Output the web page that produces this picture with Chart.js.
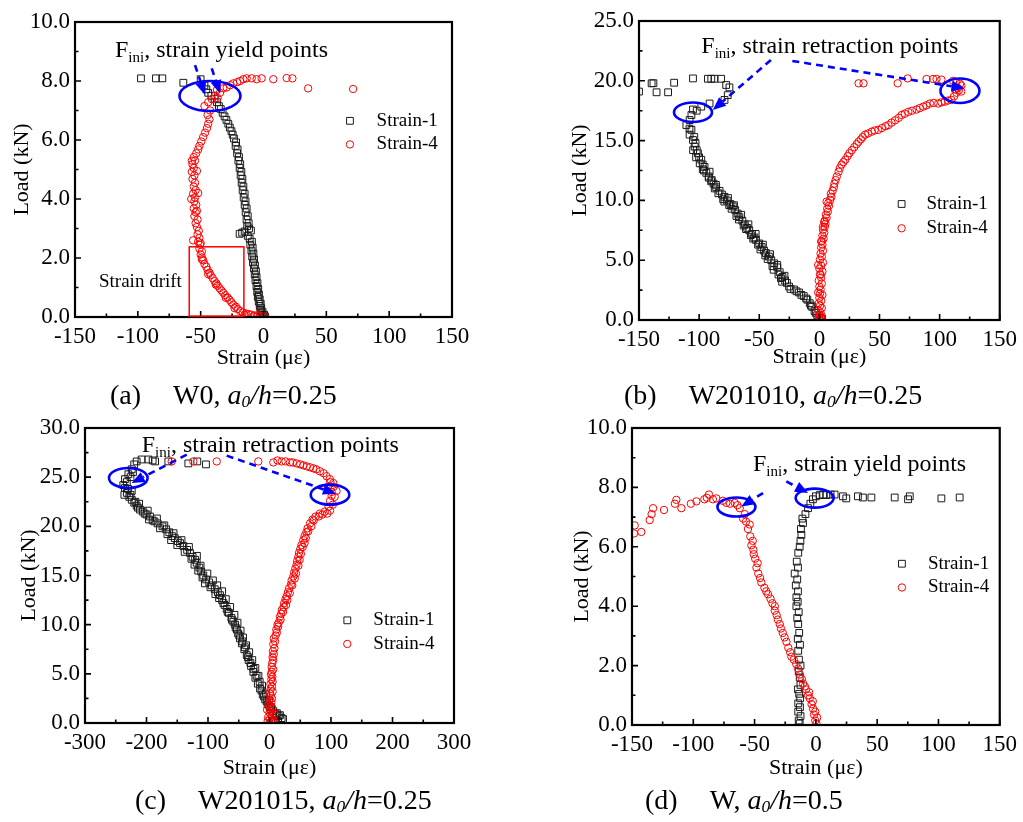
<!DOCTYPE html>
<html><head><meta charset="utf-8">
<script src="https://cdn.jsdelivr.net/npm/chart.js@4.4.1/dist/chart.umd.min.js"></script>
<style>
html,body{margin:0;padding:0;background:#fff;}
#wrap{position:relative;width:1023px;height:822px;overflow:hidden;background:#fff;}
canvas{position:absolute;left:0;top:0;}
.cap{position:absolute;font-family:'Liberation Serif','Times New Roman',serif;font-size:28px;color:#000;white-space:nowrap;line-height:1;}
.cap i{font-style:italic;}
.cap sub{font-size:0.62em;vertical-align:-0.18em;line-height:0;}
.gap{display:inline-block;width:32px;}
</style></head><body>
<div id="wrap">
<canvas id="ca" width="1023" height="822"></canvas>
<canvas id="cb" width="1023" height="822"></canvas>
<canvas id="cc" width="1023" height="822"></canvas>
<canvas id="cd" width="1023" height="822"></canvas>
<div class="cap" style="left:110px;top:381px">(a)<span class="gap"></span>W0, <i>a<sub>0</sub>/h</i>=0.25</div>
<div class="cap" style="left:624px;top:381px">(b)<span class="gap"></span>W201010, <i>a<sub>0</sub>/h</i>=0.25</div>
<div class="cap" style="left:135px;top:786px">(c)<span class="gap"></span>W201015, <i>a<sub>0</sub>/h</i>=0.25</div>
<div class="cap" style="left:645px;top:786px">(d)<span class="gap"></span>W, <i>a<sub>0</sub>/h</i>=0.5</div>
</div>
<script>
// ---------------- DATA (strain in με, load in kN) ----------------
const seriesNames = ['Strain-1', 'Strain-4'];

const a_strain1 = [[1.2,0.02],[-0.5,0.04],[0.5,0.08],[-1.5,0.12],[-0.8,0.18],[-2.5,0.24],[-1.8,0.3],[-3,0.38],[-2.2,0.45],[-3.8,0.52],[-3,0.6],[-4.5,0.68],[-3.6,0.76],[-5,0.85],[-4.2,0.95],[-5.6,1.05],[-4.8,1.15],[-6.4,1.25],[-5.5,1.35],[-7,1.45],[-6,1.55],[-7.6,1.65],[-6.8,1.75],[-8.4,1.85],[-7.5,1.95],[-9,2.05],[-8,2.15],[-9.6,2.25],[-8.6,2.35],[-10.5,2.45],[-9.2,2.55],[-11,2.65],[-12.5,2.75],[-19,2.82],[-17,2.86],[-15,2.9],[-10,2.93],[-11.5,3.0],[-13,3.08],[-11.8,3.18],[-13.5,3.3],[-12.5,3.42],[-14.2,3.55],[-13.4,3.68],[-15,3.8],[-14.3,3.92],[-15.8,4.05],[-15,4.18],[-16.6,4.3],[-16,4.42],[-17.4,4.55],[-16.8,4.68],[-18.2,4.8],[-17.6,4.92],[-19,5.05],[-18.5,5.18],[-20,5.3],[-19.5,5.42],[-21,5.55],[-20.6,5.68],[-22.2,5.8],[-21.8,5.92],[-23.5,6.05],[-24.5,6.18],[-25.5,6.3],[-26.8,6.42],[-28,6.55],[-29.5,6.68],[-31,6.8],[-32.5,6.92],[-34,7.05],[-35.5,7.15],[-37,7.28],[-39,7.4],[-41.5,7.5],[-44,7.6],[-45.5,7.72],[-47,7.85],[-50,8.06],[-63.8,7.94],[-80.5,8.09],[-85.6,8.09],[-97.5,8.09]];

const a_strain4 = [[1.2,0.02],[-1,0.03],[-3,0.05],[-5,0.06],[-7.5,0.05],[-10,0.08],[-12,0.1],[-14,0.12],[-16.5,0.15],[-18.5,0.2],[-20.5,0.27],[-22,0.35],[-24,0.42],[-25.5,0.5],[-27,0.58],[-28.5,0.66],[-30.5,0.74],[-32,0.82],[-33.5,0.9],[-35,0.98],[-36.5,1.06],[-37.5,1.14],[-39,1.22],[-40.5,1.32],[-42,1.42],[-43,1.5],[-44.5,1.6],[-45.5,1.7],[-47,1.8],[-48,1.92],[-49,2.02],[-50,2.12],[-49,2.22],[-51,2.32],[-50.5,2.45],[-52,2.55],[-51,2.68],[-52.5,2.8],[-51.5,2.92],[-53,3.05],[-54,3.18],[-52.5,3.3],[-55,3.42],[-54,3.55],[-55.5,3.68],[-53.5,3.8],[-55,3.92],[-54.5,4.05],[-56,4.18],[-54,4.3],[-55.5,4.42],[-54.5,4.55],[-56.5,4.68],[-55,4.8],[-57,4.92],[-55.5,5.05],[-56.5,5.18],[-54.5,5.3],[-55.5,5.42],[-53.5,5.55],[-52,5.68],[-51,5.8],[-49.5,5.95],[-48,6.1],[-46.5,6.25],[-45,6.4],[-44,6.55],[-43,6.7],[-44.5,6.85],[-42.5,7.0],[-47,7.15],[-44,7.28],[-41,7.38],[-38.5,7.5],[-36.5,7.42],[-34.6,7.6],[-37,7.7],[-32,7.75],[-29.3,7.78],[-26.5,7.86],[-24,7.92],[-21,7.96],[-18.7,8.0],[-16,8.06],[-13.4,8.09],[-9.4,8.09],[-5.5,8.06],[-1.5,8.09],[7.8,8.06],[18.4,8.1],[23,8.09],[35.5,7.75],[71.3,7.73],[-56,2.6],[-53,3.6],[-57.5,4.0],[-53,4.95],[-57,5.3],[-52,4.2],[-50,2.5],[-49,1.95],[-44,1.45],[-38,1.1],[-30,0.65],[-23,0.3],[-15,0.08],[-8,0.02]];

const b_strain1 = [[-150,19.1],[-139.5,19.79],[-138,19.8],[-135.4,19.04],[-125.8,19.04],[-120.8,19.84],[-105.1,20.2],[-92.7,20.17],[-89.9,20.17],[-87.2,20.17],[-81.7,20.17],[-77.5,19.65],[-74.8,19.45],[-76.2,18.8],[-78.9,18.4],[-91.3,18.1],[-98.2,17.84],[-105.1,17.6],[-102,17.5],[-106.4,17.14],[-107.9,16.72],[-110.6,16.3],[-106.4,15.9],[-107.9,15.5],[-105.1,15.05],[-103.7,14.5],[-105,14.2],[-101,13.94],[-102.5,13.6],[-98.2,13.4],[-99.5,13.1],[-95.5,12.8],[-96,12.5],[-91.3,12.4],[-92,12.0],[-89.5,11.7],[-88,11.4],[-85.8,11.1],[-83,10.8],[-81,10.5],[-78.9,10.3],[-77,10.0],[-74,9.7],[-72,9.5],[-70,9.2],[-68,8.9],[-66.5,8.6],[-64,8.3],[-62,8.0],[-60,7.7],[-58.3,7.5],[-56,7.2],[-54,6.9],[-52.7,6.7],[-50,6.4],[-48,6.1],[-46,5.8],[-44.5,5.6],[-42,5.3],[-40,5.0],[-37.6,4.74],[-35,4.4],[-33,4.0],[-30.7,3.6],[-28.5,3.3],[-27,3.1],[-25.2,2.8],[-21,2.55],[-16.9,2.3],[-13,2.0],[-10,1.7],[-8,1.4],[-6,1.1],[-4,0.75],[-1.8,0.4],[0,0.2],[2.3,0.1],[-102,14.2],[-97,12.6],[-92,11.9],[-86,11.3],[-80,10.1],[-75,9.6],[-69,8.7],[-63,7.9],[-57,7.1],[-51,6.3],[-45,5.4],[-39,4.5],[-32,3.5],[-29,3.7],[-35,4.6],[-41,5.5],[-47,6.3],[-53,7.2],[-59,8.0],[-65,8.8],[-71,9.6],[-76,10.2],[-108,16.0],[-104,15.3],[-103,14.8],[-100,13.6],[-97,13.0],[-94,12.3],[-90,11.6],[-87,11.0],[-84,10.6],[-79,9.9],[-73,9.3],[-67,8.4],[-61,7.6],[-55,6.8],[-49,5.9],[-43,5.1],[-38,4.2],[-34,3.8],[-31,3.2],[-24,2.6],[-19,2.4],[-15,2.1],[-11,1.8],[-7,1.2],[-3,0.6]];

const b_strain4 = [[0.5,0.05],[1.5,0.1],[-0.5,0.2],[2,0.3],[0,0.45],[1,0.6],[-1,0.8],[2,1.0],[0.5,1.2],[-0.5,1.4],[1.5,1.6],[0,1.85],[2.5,2.1],[-1,2.3],[1,2.55],[0,2.8],[2,3.05],[-0.5,3.3],[1.5,3.55],[0.5,3.8],[2.5,4.05],[0,4.3],[1.5,4.55],[3,4.8],[0.5,5.05],[2,5.3],[1,5.55],[3,5.8],[1.5,6.05],[2.5,6.3],[1.5,6.55],[3.5,6.8],[2.5,7.05],[4,7.3],[3,7.55],[4.5,7.8],[5,8.05],[4.5,8.3],[6,8.55],[5.5,8.8],[7,9.05],[6.5,9.3],[8,9.55],[7.5,9.8],[9,10.05],[10,10.3],[9.5,10.55],[11,10.8],[12,11.1],[12.5,11.4],[13.5,11.7],[14.5,12.0],[16,12.4],[17,12.7],[18.5,13.0],[20,13.2],[21.6,13.4],[23.5,13.7],[25,13.95],[27,14.2],[29,14.45],[31,14.7],[32.6,14.9],[34.5,15.1],[36,15.3],[38,15.5],[40.5,15.6],[43.6,15.75],[46,15.85],[49,15.9],[52,16.05],[55,16.2],[57.4,16.3],[60,16.5],[63,16.7],[66,16.9],[68.4,17.14],[71,17.25],[74,17.4],[77,17.5],[80.8,17.6],[83.5,17.72],[86.4,17.84],[89,17.95],[91.9,18.1],[95,18.15],[98.8,18.1],[101.5,18.2],[104.3,18.25],[107,18.35],[109.8,18.4],[112,18.7],[114,19.0],[116,19.2],[118,19.1],[115.3,19.4],[118,19.6],[113,19.3],[117,19.75],[114,19.9],[111.2,20.0],[101.5,20.1],[97.4,20.15],[94.6,20.15],[89.1,20.15],[73.4,20.2],[65.1,19.79],[36.7,19.79],[32.6,19.79],[1,3.8],[-1,4.6],[2,6.6],[4,8.2],[6,9.9],[3,7.8],[0.5,2.2],[1.5,0.2]];

const c_strain1 = [[-216,26.6],[-208,26.8],[-197,26.8],[-190,26.7],[-186,26.6],[-164.5,26.6],[-132,26.4],[-117.4,26.6],[-103.3,26.3],[-220,26.3],[-224,25.8],[-222,25.5],[-229.5,25.3],[-226,25.0],[-235,24.8],[-232,24.5],[-237.7,24.2],[-235,23.9],[-232,23.4],[-236,23.2],[-228,23.0],[-224,22.7],[-220,22.4],[-216,22.1],[-210.6,21.7],[-206,21.5],[-200,21.2],[-194.3,21.0],[-190,20.6],[-182,20.3],[-174,20.0],[-168,19.7],[-163,19.4],[-158,19.0],[-154,18.8],[-149,18.5],[-145.5,18.3],[-140,18.0],[-134,17.6],[-129.3,17.3],[-125,16.9],[-121,16.6],[-118.4,16.3],[-114,15.8],[-111,15.4],[-107.6,15.0],[-103,14.6],[-98,14.3],[-94,14.0],[-89,13.6],[-84,13.3],[-80.5,13.0],[-77,12.5],[-73,12.0],[-69.6,11.6],[-66,11.2],[-62,10.7],[-58.8,10.3],[-55,9.7],[-51,9.1],[-48,8.6],[-45,8.1],[-41,7.5],[-37,6.9],[-34,6.4],[-30,5.8],[-26.3,5.2],[-23,4.6],[-19,4.0],[-15.4,3.5],[-11,2.9],[-7,2.4],[-4.6,2.2],[0,1.7],[3,1.4],[6.2,1.2],[10,0.9],[15,0.7],[19.8,0.5],[8,0.3],[5,0.1],[-224,23.6],[-212,22.3],[-198,21.6],[-183,20.8],[-171,20.1],[-156,19.3],[-143,18.6],[-131,17.9],[-118,17.0],[-112,16.0],[-101,15.2],[-92,14.5],[-85,14.0],[-77,13.4],[-71,12.6],[-64,11.8],[-57,11.0],[-52,10.2],[-47,9.4],[-43,8.7],[-38,7.9],[-33,7.2],[-28,6.4],[-23,5.6],[-18,4.8],[-12,3.8],[-6,3.0],[-1,2.3],[-230,23.8],[-226,23.2],[-218,22.5],[-214,21.9],[-203,21.3],[-196,20.7],[-187,20.5],[-178,19.8],[-166,19.2],[-160,18.6],[-150,18.1],[-138,17.4],[-127,16.7],[-122,16.1],[-116,15.5],[-109,14.8],[-105,14.2],[-96,13.8],[-88,13.1],[-82,12.7],[-75,12.2],[-68,11.3],[-61,10.5],[-56,10.0],[-53,9.5],[-49,8.9],[-44,8.3],[-40,7.7],[-35,6.7],[-31,6.1],[-26,5.5],[-21,4.8],[-16,4.2],[-13,3.3],[-9,2.7],[-3,1.9],[2,1.6],[12,1.0],[17,0.8],[22,0.4],[14,0.2]];

const c_strain4 = [[0,0.05],[3,0.1],[-3,0.2],[6,0.3],[1,0.45],[-2,0.6],[4,0.75],[8,0.9],[0,1.05],[2,1.2],[-4,1.35],[5,1.5],[1,1.7],[-1,1.9],[3,2.1],[0,2.3],[4,2.5],[2,2.75],[0.8,3.0],[5,3.2],[2,3.45],[4,3.7],[1.5,3.95],[5,4.2],[3,4.45],[4.5,4.7],[2.5,4.95],[3.6,5.2],[6,5.45],[3.6,5.7],[4.5,6.1],[6,6.4],[5,6.7],[7,7.0],[5.5,7.3],[8,7.6],[6.2,8.0],[9,8.3],[7,8.6],[10,8.9],[12,9.2],[11,9.5],[14,9.8],[15,10.2],[17,10.8],[19,11.1],[20,11.5],[23,11.8],[24,12.2],[26,12.6],[28,12.9],[30,13.3],[32,13.7],[35,14.1],[36,14.5],[38.7,14.9],[40,15.3],[42,15.7],[44,16.1],[45,16.5],[46.8,16.9],[48,17.3],[50,17.7],[52,18.1],[55,18.6],[57,19.0],[60,19.4],[62,19.8],[65.9,20.3],[70,20.7],[75,21.0],[82,21.3],[90,21.5],[98.4,21.6],[96,22.0],[98.4,22.6],[101,23.1],[101,23.5],[109,23.6],[104,24.0],[103.7,24.4],[98,24.8],[92.9,25.1],[88,25.4],[82,25.6],[76,25.8],[71.2,25.9],[66,26.0],[60.5,26.1],[55,26.2],[50,26.3],[44.2,26.4],[38,26.5],[33.3,26.5],[26,26.6],[19.8,26.6],[13,26.7],[6.2,26.5],[-18.2,26.6],[-85.8,26.6],[-123.9,26.6],[-159,26.6],[13,10.0],[18,10.5],[22,11.3],[27,12.0],[29,12.5],[33,13.2],[37,14.0],[41,14.7],[43,15.2],[47,16.0],[49,16.6],[51,17.2],[54,17.9],[57,18.3],[59,18.8],[63,19.5],[68,20.0],[72,20.6],[80,21.0],[86,21.2],[94,21.3],[103,22.2],[106,23.0],[99,24.5],[95,24.0]];

const d_strain1 = [[-13.2,0.05],[-14,0.15],[-12.5,0.3],[-14.4,0.45],[-13,0.6],[-14.4,0.73],[-12.8,0.9],[-13.6,1.05],[-14.6,1.2],[-12.6,1.35],[-13.2,1.6],[-14,1.8],[-12.5,2.0],[-13.8,2.2],[-14.4,2.5],[-13,2.7],[-14.8,2.9],[-13.6,3.1],[-14.4,3.4],[-15.2,3.6],[-14,3.8],[-15.9,4.0],[-14.8,4.15],[-15.9,4.3],[-14.6,4.5],[-16.4,4.7],[-15.2,4.9],[-17.3,5.1],[-14.6,5.3],[-15.6,5.5],[-14.4,5.8],[-13.2,6.0],[-12.6,6.2],[-11.8,6.4],[-12.2,6.6],[-10.5,6.8],[-11,6.95],[-8.5,7.1],[-6.4,7.3],[-4.5,7.45],[-2.4,7.6],[0,7.7],[3.1,7.74],[6,7.76],[8.5,7.74],[12,7.76],[15.3,7.76],[22.1,7.7],[24.8,7.63],[34.3,7.7],[38.4,7.66],[45.3,7.66],[64.3,7.66],[75.2,7.6],[76.6,7.7],[102.4,7.63],[117.3,7.66]];

const d_strain4 = [[0.4,0.05],[-0.5,0.15],[1,0.25],[-1.5,0.35],[-0.5,0.45],[-2.3,0.55],[-3.5,0.7],[-2.5,0.8],[-5,0.9],[-6.4,1.0],[-5.5,1.1],[-8,1.2],[-9,1.3],[-10.5,1.4],[-11.5,1.55],[-13,1.7],[-14.5,1.9],[-16,2.05],[-18,2.2],[-20,2.3],[-21,2.45],[-22.5,2.6],[-24,2.8],[-25.5,2.95],[-27,3.1],[-28.5,3.25],[-29.5,3.4],[-31,3.55],[-32,3.7],[-33.5,3.85],[-33.5,4.0],[-35.5,4.1],[-37,4.25],[-39,4.4],[-40.5,4.5],[-42,4.62],[-44.5,4.8],[-45.5,4.95],[-47,5.1],[-48.5,5.3],[-47.5,5.45],[-49.5,5.6],[-50.7,5.75],[-51,5.9],[-52.6,6.05],[-51.5,6.2],[-53.5,6.35],[-55.4,6.6],[-54,6.75],[-57,6.85],[-59.4,6.95],[-58,7.1],[-62.1,7.3],[-64,7.4],[-66.2,7.48],[-70,7.45],[-73,7.48],[-76,7.55],[-81.2,7.63],[-84,7.6],[-87.2,7.76],[-88.9,7.65],[-91,7.6],[-97.5,7.53],[-102,7.45],[-109.7,7.3],[-113.8,7.58],[-115,7.45],[-123.9,7.24],[-132.8,7.3],[-134,7.1],[-135.6,6.9],[-142.4,6.5],[-147.8,6.72],[-148.3,6.45]];

// ---------------- RENDERING ----------------
const FONT = "'Liberation Serif','Times New Roman',serif";
const W = 1023, H = 822;

const panels = [
  { id:'ca', s1:a_strain1, s4:a_strain4,
    area:{l:75,t:22,r:452,b:317}, yTitleX:22, xTitleY:358,
    x:{min:-150,max:150,step:50,minor:25}, y:{min:0,max:10,step:2,minor:1},
    legend:{x:68.8,y1:6.65,y2:5.85,tx:90},
    note:{x:-118.2,y:8.81,text:', strain yield points'},
    ellipses:[{x:-42.6,y:7.49,rx:30.5,ry:15}],
    arrows:[[-54.5,8.54,-46.6,7.53],[-41.2,8.43,-34.6,7.58]],
    rect:[-59.1,2.38,-15.6,0.03], drift:{x:-130.9,y:1.02,text:'Strain drift'} },
  { id:'cb', s1:b_strain1, s4:b_strain4,
    area:{l:639,t:21,r:1002,b:320}, yTitleX:580, xTitleY:357,
    x:{min:-150,max:150,step:50,minor:25}, y:{min:0,max:25,step:5,minor:2.5},
    legend:{x:68.4,y1:9.70,y2:7.67,tx:89.1},
    note:{x:-98.2,y:22.32,text:', strain retraction points'},
    ellipses:[{x:-105.1,y:17.37,rx:19,ry:9.8},{x:116.9,y:19.17,rx:19.5,ry:12.2}],
    arrows:[[-40.3,21.74,-88.6,17.56],[-22.5,21.66,120.8,19.37]] },
  { id:'cc', s1:c_strain1, s4:c_strain4,
    area:{l:85,t:428,r:454,b:723}, yTitleX:29, xTitleY:768,
    x:{min:-300,max:300,step:100,minor:50}, y:{min:0,max:30,step:5,minor:2.5},
    legend:{x:126.5,y1:10.44,y2:8.04,tx:168.8},
    note:{x:-207.8,y:27.53,text:', strain retraction points'},
    ellipses:[{x:-229.6,y:24.92,rx:19.3,ry:10},{x:98.4,y:23.22,rx:19.3,ry:10}],
    arrows:[[-134.6,27.29,-224.1,24.41],[-69.6,27.19,108.1,23.32]] },
  { id:'cd', s1:d_strain1, s4:d_strain4,
    area:{l:632,t:428,r:1000,b:725}, yTitleX:582, xTitleY:768,
    x:{min:-150,max:150,step:50,minor:25}, y:{min:0,max:10,step:2,minor:1},
    legend:{x:70.2,y1:5.43,y2:4.63,tx:91.4},
    note:{x:-51.3,y:8.54,text:', strain yield points'},
    ellipses:[{x:-64.8,y:7.34,rx:19,ry:9.5},{x:-1.0,y:7.64,rx:19,ry:9.5}],
    arrows:[[-43.1,7.81,-60.8,7.36],[-24.1,8.2,-6.4,7.81]] }
];

const SQ = {pointStyle:'rect', radius:4.8, borderColor:'#1a1a1a', borderWidth:1};
const CI = {pointStyle:'circle', radius:3.7, borderColor:'#ff0000', borderWidth:1};

function blueArrow(c, x1, y1, x2, y2) {
  const ang = Math.atan2(y2 - y1, x2 - x1), hl = 13, hw = 5.5;
  const bx = x2 - hl * Math.cos(ang), by = y2 - hl * Math.sin(ang);
  c.strokeStyle = '#0000ff'; c.fillStyle = '#0000ff'; c.lineWidth = 2.6;
  c.setLineDash([7, 5]);
  c.beginPath(); c.moveTo(x1, y1); c.lineTo(bx, by); c.stroke();
  c.setLineDash([]);
  c.beginPath(); c.moveTo(x2, y2);
  c.lineTo(bx - hw * Math.sin(ang), by + hw * Math.cos(ang));
  c.lineTo(bx + hw * Math.sin(ang), by - hw * Math.cos(ang));
  c.closePath(); c.fill();
}

const decor = {
  id: 'decor',
  afterDatasetsDraw(chart) {
    const P = chart.options.plugins.decor.panel;
    const c = chart.ctx, a = chart.chartArea, xs = chart.scales.x, ys = chart.scales.y;
    const X = v => xs.getPixelForValue(v), Y = v => ys.getPixelForValue(v);
    c.save();
    // ticks (inward)
    c.strokeStyle = '#000'; c.lineWidth = 1.6;
    c.beginPath();
    const nX = Math.round((P.x.max - P.x.min) / P.x.minor);
    for (let i = 0; i <= nX; i++) {
      const v = P.x.min + i * P.x.minor, p = X(v);
      const major = (i * P.x.minor) % P.x.step === 0;
      c.moveTo(p, a.bottom); c.lineTo(p, a.bottom - (major ? 6 : 3.5));
    }
    const nY = Math.round((P.y.max - P.y.min) / P.y.minor);
    for (let i = 0; i <= nY; i++) {
      const v = P.y.min + i * P.y.minor, p = Y(v);
      const major = Math.abs((i * P.y.minor) / P.y.step - Math.round((i * P.y.minor) / P.y.step)) < 1e-9;
      c.moveTo(a.left, p); c.lineTo(a.left + (major ? 6 : 3.5), p);
    }
    c.stroke();
    // frame
    c.lineWidth = 2.2;
    c.strokeRect(a.left, a.top, a.right - a.left, a.bottom - a.top);
    // legend (hollow markers)
    const L = P.legend, H2 = Chart.helpers;
    c.fillStyle = 'rgba(0,0,0,0)';
    c.lineWidth = 1; c.strokeStyle = SQ.borderColor;
    H2.drawPoint(c, {pointStyle:'rect', radius:SQ.radius, borderWidth:1, rotation:0}, X(L.x), Y(L.y1));
    c.fillStyle = 'rgba(0,0,0,0)';
    c.strokeStyle = CI.borderColor;
    H2.drawPoint(c, {pointStyle:'circle', radius:CI.radius, borderWidth:1, rotation:0}, X(L.x), Y(L.y2));
    c.fillStyle = '#000'; c.font = '19px ' + FONT; c.textBaseline = 'middle'; c.textAlign = 'left';
    c.fillText(chart.data.datasets[0].label, X(L.tx), Y(L.y1));
    c.fillText(chart.data.datasets[1].label, X(L.tx), Y(L.y2));
    // note text  F_ini, ...
    const N = P.note, nx = X(N.x), ny = Y(N.y);
    c.textBaseline = 'alphabetic';
    c.font = '24px ' + FONT; c.fillText('F', nx, ny);
    let w = c.measureText('F').width;
    c.font = '15px ' + FONT; c.fillText('ini', nx + w, ny + 5);
    w += c.measureText('ini').width;
    c.font = '24px ' + FONT; c.fillText(N.text, nx + w, ny);
    // arrows
    P.arrows.forEach(ar => blueArrow(c, X(ar[0]), Y(ar[1]), X(ar[2]), Y(ar[3])));
    // ellipses
    c.strokeStyle = '#0000ff'; c.lineWidth = 2.6;
    P.ellipses.forEach(e => { c.beginPath(); c.ellipse(X(e.x), Y(e.y), e.rx, e.ry, 0, 0, Math.PI * 2); c.stroke(); });
    // strain drift box
    if (P.rect) {
      c.strokeStyle = '#ff0000'; c.lineWidth = 1.5;
      const r = P.rect;
      c.strokeRect(X(r[0]), Y(r[1]), X(r[2]) - X(r[0]), Y(r[3]) - Y(r[1]));
      c.fillStyle = '#000'; c.font = '19px ' + FONT; c.textBaseline = 'alphabetic';
      c.fillText(P.drift.text, X(P.drift.x), Y(P.drift.y));
    }
    c.restore();
  }
};

panels.forEach(P => {
  const A = P.area;
  const yW = A.l - (P.yTitleX - 16);
  const xH = (P.xTitleY + 16) - A.b;
  const tickFont = {family: FONT, size: 23};
  new Chart(document.getElementById(P.id), {
    type: 'scatter',
    data: {
      datasets: [
        {label: seriesNames[0], data: P.s1.map(p => ({x: p[0], y: p[1]})),
         pointStyle: SQ.pointStyle, pointRadius: SQ.radius, pointBorderColor: SQ.borderColor,
         pointBackgroundColor: 'rgba(0,0,0,0)', pointBorderWidth: SQ.borderWidth, showLine: false, order: 2},
        {label: seriesNames[1], data: P.s4.map(p => ({x: p[0], y: p[1]})),
         pointStyle: CI.pointStyle, pointRadius: CI.radius, pointBorderColor: CI.borderColor,
         pointBackgroundColor: 'rgba(0,0,0,0)', pointBorderWidth: CI.borderWidth, showLine: false, order: 1}
      ]
    },
    options: {
      responsive: false, animation: false, events: [],
      layout: {padding: {left: A.l - yW, top: A.t, right: W - A.r, bottom: H - (A.b + xH)}},
      plugins: {legend: {display: false}, tooltip: {enabled: false}, decor: {panel: P}},
      scales: {
        x: {type: 'linear', position: 'bottom', min: P.x.min, max: P.x.max,
            grid: {display: false, drawTicks: false}, border: {display: false},
            ticks: {stepSize: P.x.step, color: '#000', font: tickFont, padding: 6, maxRotation: 0, autoSkip: false,
                    callback: v => String(v)},
            title: {display: true, text: 'Strain (με)', color: '#000', font: {family: FONT, size: 22}, padding: {top: 0, bottom: 2.8}},
            afterFit: s => { s.height = xH; }},
        y: {type: 'linear', position: 'left', min: P.y.min, max: P.y.max,
            grid: {display: false, drawTicks: false}, border: {display: false},
            ticks: {stepSize: P.y.step, color: '#000', font: tickFont, padding: 5, autoSkip: false,
                    callback: v => Number(v).toFixed(1)},
            title: {display: true, text: 'Load (kN)', color: '#000', font: {family: FONT, size: 22}, padding: {top: 2.8, bottom: 0}},
            afterFit: s => { s.width = yW; }}
      }
    },
    plugins: [decor]
  });
});
</script>
</body></html>
